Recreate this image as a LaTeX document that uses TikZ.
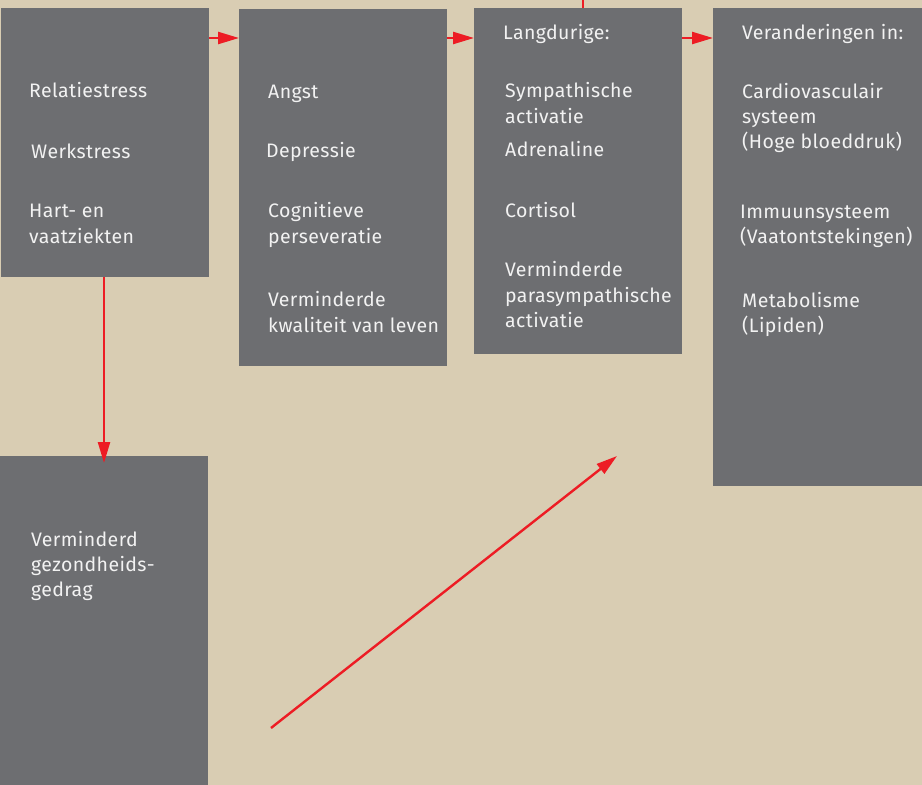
\documentclass[tikz,border=0pt]{standalone}
\usepackage{fontspec}
\setmainfont{Fira Sans}[LetterSpace=2]
\usetikzlibrary{arrows.meta}
\definecolor{bg}{HTML}{D9CDB3}
\definecolor{boxgray}{HTML}{6D6E71}
\definecolor{arrred}{HTML}{ED1C24}
\definecolor{txt}{HTML}{F2F2F2}
\tikzset{
  panel/.style={fill=boxgray, draw=none, anchor=north west, inner sep=0pt},
  lbl/.style={anchor=base west, inner sep=0pt, text=txt, font=\fontsize{19.5}{25}\selectfont},
  conn/.style={draw=arrred, line width=2.4pt, -{Triangle[length=21pt,width=12pt]}},
  plainconn/.style={draw=arrred, line width=2.4pt},
}
\begin{document}
\begin{tikzpicture}[x=1pt,y=-1pt]
\fill[bg] (0,0) rectangle (922,785);
\useasboundingbox (0,0) rectangle (922,785);

\node[panel, minimum width=208pt, minimum height=269pt] (b1) at (1,8) {};
\node[panel, minimum width=208pt, minimum height=357pt] (b2) at (239,9) {};
\node[panel, minimum width=208pt, minimum height=346pt] (b3) at (474,8) {};
\node[panel, minimum width=210pt, minimum height=478pt] (b4) at (713,8) {};
\node[panel, minimum width=208pt, minimum height=330pt] (b5) at (0,456) {};

% box 1
\node[lbl] (t11) at (29,97) {Relatiestress};
\node[lbl] (t12) at (31,158) {Werkstress};
\node[lbl] (t13) at (29,217) {Hart- en};
\node[lbl] (t14) at (29,243) {vaatziekten};

% box 2
\node[lbl] (t21) at (268,98) {Angst};
\node[lbl] (t22) at (266,157) {Depressie};
\node[lbl] (t23) at (268,217) {Cognitieve};
\node[lbl] (t24) at (268,243) {perseveratie};
\node[lbl] (t25) at (268,306) {Verminderde};
\node[lbl] (t26) at (268,332) {kwaliteit van leven};

% box 3
\node[lbl] (t30) at (503,39) {Langdurige:};
\node[lbl] (t31) at (505,97) {Sympathische};
\node[lbl] (t32) at (505,123) {activatie};
\node[lbl] (t33) at (505,156) {Adrenaline};
\node[lbl] (t34) at (505,217) {Cortisol};
\node[lbl] (t35) at (505,276) {Verminderde};
\node[lbl] (t36) at (505,302) {parasympathische};
\node[lbl] (t37) at (505,327) {activatie};

% box 4
\node[lbl] (t40) at (742,39) {Veranderingen in:};
\node[lbl] (t41) at (742,98) {Cardiovasculair};
\node[lbl] (t42) at (742,123) {systeem};
\node[lbl] (t43) at (742,148) {(Hoge bloeddruk)};
\node[lbl] (t44) at (740,218) {Immuunsysteem};
\node[lbl] (t45) at (740,243) {(Vaatontstekingen)};
\node[lbl] (t46) at (742,307) {Metabolisme};
\node[lbl] (t47) at (742,332) {(Lipiden)};

% box 5
\node[lbl] (t51) at (31,546) {Verminderd};
\node[lbl] (t52) at (31,571) {gezondheids-};
\node[lbl] (t53) at (31,596) {gedrag};

% connectors
\draw[conn] ([yshift=-30pt]b1.north east) -- ([yshift=-29pt]b2.north west);
\draw[conn] ([yshift=-29pt]b2.north east) -- ([yshift=-30pt]b3.north west);
\draw[conn] ([yshift=-30pt]b3.north east) -- ([yshift=-30pt]b4.north west);
\coordinate (topin) at (583,0);
\draw[plainconn] (topin) -- (topin |- b3.north);
\draw[conn, shorten >=-7pt] (b1.south -| 104,0) -- (b5.north -| 104,0);
\coordinate (dstart) at (271,728);
\coordinate (dend) at (617,456);
\draw[conn] (dstart) -- (dend);
\end{tikzpicture}
\end{document}
